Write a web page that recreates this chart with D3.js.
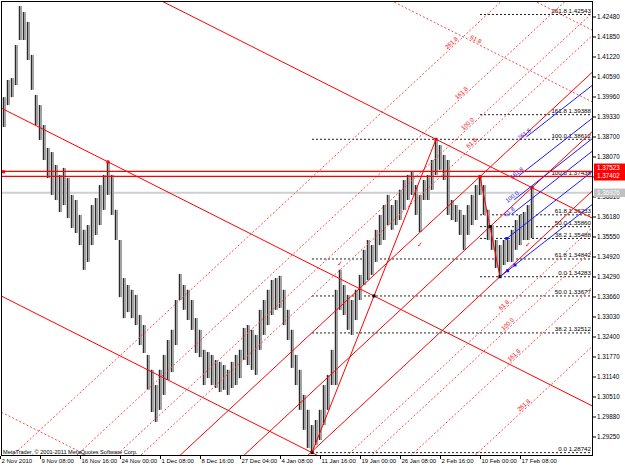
<!DOCTYPE html>
<html>
<head>
<meta charset="utf-8">
<script src="https://cdn.jsdelivr.net/npm/d3@7"></script>
<style>
body { margin: 0; background: #fff; }
text { font-family: "Liberation Sans", Arial, sans-serif; }
</style>
</head>
<body>
<div class="chart"></div>
<script>
const width = 625
const height = 469

// bar highs / lows, one bar every 4px from bar 1
const highs = [1.3994,1.4048,1.4054,1.4158,1.4281,1.4262,1.4231,1.4127,1.4001,1.3969,
    1.3906,1.3834,1.3821,1.3780,1.3749,1.3771,1.3739,1.3686,1.3670,1.3623,
    1.3576,1.3591,1.3654,1.3676,1.3717,1.3749,1.3790,1.3749,1.3639,1.3544,
    1.3424,1.3402,1.3387,1.3371,1.3308,1.3276,1.3182,1.3135,1.3087,1.3135,
    1.3182,1.3229,1.3261,1.3355,1.3437,1.3402,1.3387,1.3355,1.3298,1.3261,
    1.3198,1.3191,1.3182,1.3166,1.3160,1.3150,1.3135,1.3160,1.3182,1.3198,
    1.3267,1.3276,1.3261,1.3245,1.3324,1.3355,1.3387,1.3418,1.3424,1.3431,
    1.3387,1.3324,1.3261,1.3182,1.3135,1.3056,1.3009,1.2961,1.2977,1.3009,
    1.3087,1.3119,1.3198,1.3387,1.3450,1.3402,1.3371,1.3355,1.3387,1.3434,
    1.3513,1.3544,1.3528,1.3576,1.3623,1.3654,1.3686,1.3654,1.3670,1.3702,
    1.3733,1.3749,1.3758,1.3717,1.3686,1.3733,1.3749,1.3796,1.38612,1.3843,
    1.3812,1.3796,1.3670,1.3654,1.3639,1.3623,1.3654,1.3686,1.3717,1.37438,
    1.3717,1.3639,1.3591,1.3544,1.3528,1.3544,1.3544,1.3576,1.3607,1.3623,
    1.3632,1.3654,1.3714]
const lows = [1.3900,1.3969,1.3994,1.4032,1.4174,1.4174,1.4111,1.4017,1.3906,1.3859,
    1.3796,1.3739,1.3686,1.3670,1.3632,1.3654,1.3613,1.3582,1.3566,1.3528,
    1.3450,1.3475,1.3528,1.3560,1.3591,1.3639,1.3686,1.3623,1.3544,1.3364,
    1.3298,1.3317,1.3298,1.3276,1.3213,1.3188,1.3072,1.3002,1.2971,1.3009,
    1.3056,1.3103,1.3128,1.3213,1.3355,1.3324,1.3292,1.3261,1.3188,1.3175,
    1.3087,1.3109,1.3087,1.3078,1.3065,1.3072,1.3056,1.3078,1.3087,1.3109,
    1.3166,1.3150,1.3135,1.3119,1.3198,1.3245,1.3276,1.3308,1.3324,1.3330,
    1.3276,1.3229,1.3141,1.3087,1.3009,1.2946,1.2889,1.28742,1.2898,1.2914,
    1.2961,1.3009,1.3087,1.3087,1.3324,1.3308,1.3261,1.3245,1.3292,1.3355,
    1.3402,1.3418,1.3434,1.3475,1.3528,1.3544,1.3591,1.3576,1.3591,1.3607,
    1.3639,1.3670,1.3686,1.3623,1.3569,1.3670,1.3670,1.3702,1.3749,1.3765,
    1.3733,1.3623,1.3607,1.3601,1.3560,1.3513,1.3560,1.3591,1.3607,1.3686,
    1.3623,1.3544,1.3513,1.3456,1.34283,1.3465,1.3475,1.3475,1.3513,1.3528,
    1.3544,1.3544,1.3550]

const xTickBars = [0, 10, 20, 30, 40, 50, 60, 70, 80, 90, 100, 110, 120, 130]
const xTickLabels = ["2 Nov 2010", "9 Nov 08:00", "16 Nov 16:00", "24 Nov 00:00", "1 Dec 08:00",
    "8 Dec 16:00", "27 Dec 04:00", "4 Jan 08:00", "11 Jan 16:00", "19 Jan 00:00",
    "26 Jan 08:00", "2 Feb 16:00", "10 Feb 00:00", "17 Feb 08:00"]
const yTickLabels = ["1.29250", "1.29880", "1.30510", "1.31140", "1.31770", "1.32400", "1.33030",
    "1.33660", "1.34290", "1.34920", "1.35550", "1.36180", "1.36810", "1.37440", "1.38070",
    "1.38700", "1.39330", "1.39960", "1.40590", "1.41220", "1.41850", "1.42480"]

// fibonacci retracements: [bar, price] of low and high
const bigFibLow = [78, 1.28742]
const bigFibHigh = [109, 1.38612]
const bigFibLevels = [0, 38.2, 50, 61.8, 100]
const smallFibHigh = [120, 1.37438]
const smallFibLow = [125, 1.34283]
const smallFibLevels = [0, 38.2, 50, 61.8, 100, 161.8, 261.8]

// andrews pitchforks: pivot, second, third point
const forkDown = [[27, 1.3790], [109, 1.38612], [78, 1.28742]]
const forkUp = [[133, 1.3709], [120, 1.37438], [125, 1.34283]]
const forkLevels = [0.618, 1, 1.618, 2.618]

// blue fibo channel: two base points and width point
const blueBase = [[125, 1.34283], [128.75, 1.34653]]
const blueWidth = [126.7, 1.35488]
const blueMarks = [[126.9, 1.34473], [128.75, 1.34653], [126.7, 1.35488]]

const hLinePrices = [1.37604, 1.37447]
const hLineLabels = ["1.37523", "1.37402"]
const bidPrice = 1.36926
const checkMarks = [[85, 1.34716], [105, 1.35314], [132, 1.35314]]

const plot = { left: 2, top: 2, right: 593, bottom: 456 }

const svg = d3.select(".chart")
    .append("svg")
    .attr("width", width)
    .attr("height", height)
    .style("display", "block")

const x = d3.scaleLinear().domain([0, 148.25]).range([0, 593])
const y = d3.scaleLinear().domain([1.29250, 1.42480]).range([436.5, 16.5])

svg.append("defs").append("clipPath").attr("id", "clip")
    .append("rect")
    .attr("x", plot.left).attr("y", plot.top)
    .attr("width", plot.right - plot.left).attr("height", plot.bottom - plot.top)

const g = svg.append("g").attr("clip-path", "url(#clip)")

const line = (layer, i0, p0, k, from, to, color, dash, w) => layer.append("line")
    .attr("x1", x(from)).attr("y1", y(p0 + k * (from - i0)))
    .attr("x2", x(to)).attr("y2", y(p0 + k * (to - i0)))
    .attr("stroke", color)
    .attr("stroke-width", w || 1)
    .attr("stroke-dasharray", dash || null)

const angleOf = k => Math.atan2(y(k) - y(0), x(1) - x(0)) * 180 / Math.PI

const inPlot = (i, p) => x(i) > plot.left + 4 && x(i) < plot.right - 4 && y(p) > plot.top + 6 && y(p) < plot.bottom - 4

const label = (layer, i, p, k, txt, color) => {
    if (!inPlot(i, p)) return
    layer.append("text")
        .attr("transform", `translate(${x(i)},${y(p)}) rotate(${angleOf(k)})`)
        .attr("dy", -1.5)
        .attr("text-anchor", "middle")
        .attr("fill", color)
        .style("font-size", "6px")
        .text(txt)
}

const square = (layer, i, p, color) => layer.append("rect")
    .attr("x", x(i) - 1.5).attr("y", y(p) - 1.5)
    .attr("width", 3).attr("height", 3)
    .attr("fill", color)

//Bid line
g.append("line")
    .attr("x1", plot.left).attr("x2", plot.right)
    .attr("y1", y(bidPrice)).attr("y2", y(bidPrice))
    .attr("stroke", "#cfcfcf").attr("stroke-width", 2)

//Fibo retracement levels
const fibLevels = (lo, hi, levels) => {
    levels.forEach(l => {
        const p = lo[1] + l / 100 * (hi[1] - lo[1])
        line(g, 0, p, 0, Math.min(lo[0], hi[0]), 150, "#222", "2,2")
        g.append("text")
            .attr("x", 591).attr("y", y(p) - 1.5)
            .attr("text-anchor", "end")
            .style("font-size", "6.2px")
            .text(`${l.toFixed(1)} ${p.toFixed(5)}`)
    })
}
fibLevels(bigFibLow, bigFibHigh, bigFibLevels)
fibLevels(smallFibLow, smallFibHigh, smallFibLevels)

//Bars
const bars = highs.map((h, i) => ({ i: i + 1, h: h, l: lows[i] }))
g.selectAll("rect.bar")
    .data(bars)
    .enter().append("rect")
        .attr("class", "bar")
        .attr("x", d => x(d.i) - 1.5)
        .attr("y", d => y(d.h))
        .attr("width", 3.5)
        .attr("height", d => y(d.l) - y(d.h))
        .attr("fill", "#a2a2a2")
g.selectAll("line.wick")
    .data(bars)
    .enter().append("line")
        .attr("class", "wick")
        .attr("x1", d => x(d.i) - 0.5).attr("x2", d => x(d.i) - 0.5)
        .attr("y1", d => y(d.h)).attr("y2", d => y(d.l))
        .attr("stroke", "#2b2b2b")

//Pitchforks
const fork = (pts, color) => {
    const [p1, p2, p3] = pts
    const mi = (p2[0] + p3[0]) / 2, mp = (p2[1] + p3[1]) / 2
    const k = (mp - p1[1]) / (mi - p1[0])
    const d = [(p2[0] - p3[0]) / 2, (p2[1] - p3[1]) / 2]
    ;[p1, p2, p3].forEach(p => line(g, p[0], p[1], k, -5, 155, color))
    line(g, p2[0], p2[1], (p3[1] - p2[1]) / (p3[0] - p2[0]), p2[0], p3[0], color)
    forkLevels.forEach(l => {
        const up = [p2[0] + l * d[0], p2[1] + l * d[1]]
        const dn = [p3[0] - l * d[0], p3[1] - l * d[1]]
        ;[up, dn].forEach(s => {
            line(g, s[0], s[1], k, -5, 155, "#ff4a4a", "2,2")
            label(g, s[0], s[1], k, (l * 100).toFixed(1), color)
        })
    })
    square(g, p1[0], p1[1], color)
    square(g, p2[0], p2[1], color)
    square(g, p3[0], p3[1], "#000")
    square(g, mi, mp, color === "#ff0000" ? "#000" : color)
}
fork(forkDown, "#ff0000")
fork(forkUp, "#ff0000")

//Blue fibo channel
const kb = (blueBase[1][1] - blueBase[0][1]) / (blueBase[1][0] - blueBase[0][0])
const bw = blueWidth[1] - (blueBase[0][1] + kb * (blueWidth[0] - blueBase[0][0]))
line(g, blueBase[0][0], blueBase[0][1], kb, blueBase[0][0], 155, "#1a1aff")
line(g, blueWidth[0], blueWidth[1], kb, blueWidth[0], 155, "#1a1aff")
forkLevels.forEach(l => {
    const si = blueWidth[0] + l * (blueBase[1][0] - blueBase[0][0]) / 2
    const sp = blueWidth[1] + l * bw + kb * (si - blueWidth[0])
    line(g, si, sp, kb, si, 155, "#1a1aff")
    label(g, si, sp, kb, (l * 100).toFixed(1), "#1a1aff")
})
blueMarks.forEach(m => square(g, m[0], m[1], "#1a1aff"))

//Horizontal lines
hLinePrices.forEach(p => line(g, 0, p, 0, 0, 150, "#ff0000", null, 1.2))
square(g, x.invert(3.5), hLinePrices[1] + (hLinePrices[0] - hLinePrices[1]) * 0.9, "#ff0000")

//Check marks
g.selectAll("text.check")
    .data(checkMarks)
    .enter().append("text")
        .attr("class", "check")
        .attr("x", d => x(d[0]))
        .attr("y", d => y(d[1]) + 3)
        .attr("text-anchor", "middle")
        .attr("fill", "#ff0000")
        .style("font-family", "DejaVu Sans")
        .style("font-size", "7px")
        .text("\u2713")

svg.append("text")
    .attr("x", 3).attr("y", 454)
    .style("font-size", "5.6px")
    .text("MetaTrader, \u00a9 2001-2011 MetaQuotes Software Corp.")

//Axes
const yAxis = svg.append("g")
    .attr("transform", `translate(${plot.right}, 0)`)
    .call(d3.axisRight(y)
        .tickValues(yTickLabels.map(Number))
        .tickFormat((d, i) => yTickLabels[i])
        .tickSizeInner(3).tickSizeOuter(0).tickPadding(1))
yAxis.selectAll("text").style("font-size", "6.3px").attr("fill", "#000")

const xAxis = svg.append("g")
    .attr("transform", `translate(0, ${plot.bottom})`)
    .call(d3.axisBottom(x)
        .tickValues(xTickBars)
        .tickFormat((d, i) => xTickLabels[i])
        .tickSizeInner(3).tickSizeOuter(0).tickPadding(0))
xAxis.selectAll("text")
    .attr("text-anchor", "start")
    .attr("x", 1)
    .style("font-size", "6px")
    .attr("fill", "#000")
d3.selectAll("path.domain").remove()

//Price boxes on the axis
const boxH = 8.5
let prevTop = Infinity
hLinePrices.map((p, i) => ({ p, t: hLineLabels[i] }))
    .sort((a, b) => a.p - b.p)
    .forEach(d => {
        let c = Math.min(y(d.p), prevTop - boxH / 2)
        prevTop = c - boxH / 2
        svg.append("rect").attr("x", 594).attr("y", c - boxH / 2)
            .attr("width", 31).attr("height", boxH).attr("fill", "#ff0000")
        svg.append("text").attr("x", 597).attr("y", c + 2.2)
            .attr("fill", "#fff").style("font-size", "6.3px").text(d.t)
    })
svg.append("rect").attr("x", 594).attr("y", y(bidPrice) - boxH / 2)
    .attr("width", 31).attr("height", boxH).attr("fill", "#c0c0c0")
svg.append("text").attr("x", 597).attr("y", y(bidPrice) + 2.2)
    .attr("fill", "#fff").style("font-size", "6.3px").text(bidPrice.toFixed(5))

//Frame
svg.append("rect")
    .attr("x", plot.left - 0.5).attr("y", plot.top - 0.5)
    .attr("width", plot.right - plot.left).attr("height", plot.bottom - plot.top)
    .attr("fill", "none").attr("stroke", "#000")
</script>
</body>
</html>
